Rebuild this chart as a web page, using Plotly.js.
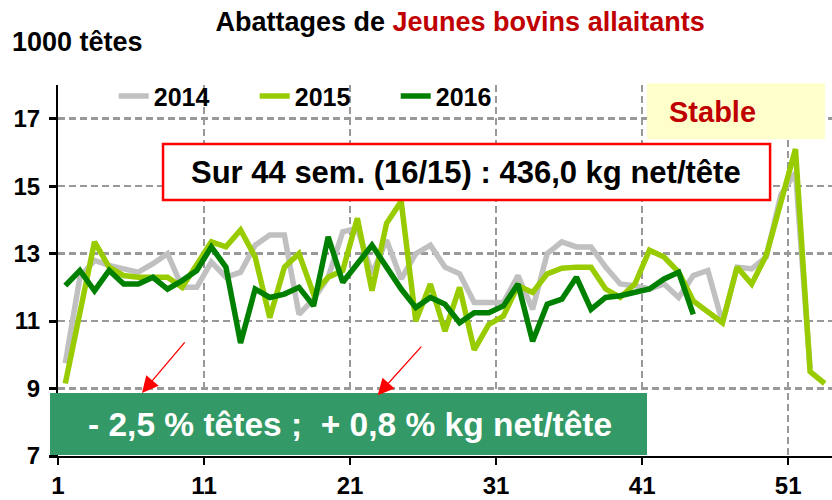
<!DOCTYPE html>
<html><head><meta charset="utf-8">
<script src="https://cdn.plot.ly/plotly-3.0.1.min.js"></script>
<style>body{margin:0;background:#fff}#chart{width:832px;height:500px}</style>
</head><body><div id="chart"></div>
<script>
const weeks = [1,2,3,4,5,6,7,8,9,10,11,12,13,14,15,16,17,18,19,20,21,22,23,24,25,26,27,28,29,30,31,32,33,34,35,36,37,38,39,40,41,42,43,44,45,46,47,48,49,50,51,52,53];
const seriesNames = ['2014','2015','2016'];
const values2014 = [9.75,12.3,12.8,12.65,12.55,12.45,12.7,13.0,12.0,12.0,12.75,12.3,12.45,13.25,13.55,13.55,11.2,11.65,12.3,13.65,13.75,12.4,13.4,12.25,13.0,13.25,12.6,12.4,11.55,11.55,11.55,12.35,11.35,13.0,13.35,13.2,13.2,12.6,12.1,12.05,11.95,12.1,11.7,12.35,12.5,10.95,12.6,12.55,12.9,14.75,15.4,9.6];
const values2015 = [9.15,11.3,13.35,12.6,12.35,12.3,12.3,12.3,12.0,12.7,13.35,13.2,13.7,12.9,11.1,12.6,13.0,11.8,12.3,12.5,14.05,11.9,13.9,14.55,11.0,12.1,10.7,12.0,10.15,10.9,11.15,12.05,11.85,12.4,12.57,12.6,12.6,11.95,11.7,12.1,13.1,12.9,12.45,11.6,11.25,10.95,12.6,12.1,12.95,14.5,16.1,9.5,9.15];
const values2016 = [12.05,12.5,11.9,12.5,12.1,12.1,12.3,11.95,12.2,12.5,13.2,12.6,10.35,11.95,11.7,11.8,12.0,11.45,13.5,12.15,12.7,13.25,12.6,11.95,11.4,11.7,11.5,10.95,11.25,11.25,11.45,12.1,10.4,11.5,11.65,12.3,11.35,11.7,11.75,11.85,11.95,12.25,12.45,11.2];
const xTickLabels = ['1','11','21','31','41','51'];
const yTickValues = [7,9,11,13,15,17];
const titleLeft = 'Abattages de ';
const titleRight = 'Jeunes bovins allaitants';
const yUnit = '1000 têtes';
const boxText = 'Sur 44 sem. (16/15) : 436,0 kg net/tête';
const stableText = 'Stable';
const greenText = '- 2,5 % têtes ;  + 0,8 % kg net/tête';

const FONT = 'Liberation Sans, Arial, sans-serif';
const colors = ['#c0c0c0','#99cc00','#008000'];
const allValues = [values2014, values2015, values2016];

const traces = allValues.map((v, i) => ({
  type: 'scatter', mode: 'lines', name: seriesNames[i],
  x: weeks.slice(0, v.length), y: v,
  line: {color: colors[i], width: 5.5},
  hoverinfo: 'skip'
}));

const gridDash = '7px,4px';
const layout = {
  width: 832, height: 500,
  margin: {l: 58, r: 0, t: 85, b: 44},
  paper_bgcolor: '#ffffff', plot_bgcolor: '#ffffff',
  font: {family: FONT, color: '#000'},
  title: {
    text: titleLeft + '<span style="color:#c00000">' + titleRight + '</span>',
    x: 0.553, xanchor: 'center', y: 0.956, yanchor: 'middle',
    font: {family: FONT, size: 27, weight: 'bold', color: '#000'}
  },
  showlegend: true,
  legend: {
    orientation: 'h', x: 0.072, xanchor: 'left', y: 1.032, yanchor: 'top',
    bgcolor: 'rgba(0,0,0,0)', entrywidth: 96, entrywidthmode: 'pixels',
    font: {family: FONT, size: 25, weight: 'bold', color: '#000'}
  },
  xaxis: {
    range: [0.5, 53.5],
    tickmode: 'array',
    tickvals: xTickLabels.map(l => Number(l) - 0.5),
    ticktext: xTickLabels,
    ticks: 'outside', ticklen: 7, tickwidth: 2, tickcolor: '#000',
    showline: true, linecolor: '#000', linewidth: 2,
    showgrid: true, gridcolor: '#999999', gridwidth: 2.5, griddash: gridDash,
    zeroline: false,
    tickfont: {family: FONT, size: 24, weight: 'bold', color: '#000'}
  },
  yaxis: {
    range: [7, 18],
    tickmode: 'array', tickvals: yTickValues,
    ticks: 'outside', ticklen: 7, tickwidth: 3, tickcolor: '#000',
    ticklabelstandoff: 4,
    showline: true, linecolor: '#000', linewidth: 2,
    showgrid: true, gridcolor: '#999999', gridwidth: 2.5, griddash: gridDash,
    zeroline: false,
    tickfont: {family: FONT, size: 24, weight: 'bold', color: '#000'}
  },
  shapes: [
    {type: 'rect', xref: 'paper', yref: 'paper', x0: -0.0103, x1: 0.761, y0: 0.003, y1: 0.17,
     fillcolor: '#339966', line: {width: 0}, layer: 'above'},
    {type: 'rect', xref: 'paper', yref: 'paper', x0: 0.1357, x1: 0.92, y0: 0.69, y1: 0.841,
     fillcolor: '#ffffff', line: {color: '#ff0000', width: 2.5}, layer: 'above'},
    {type: 'rect', xref: 'paper', yref: 'paper', x0: 0.761, x1: 0.991, y0: 0.854, y1: 1.005,
     fillcolor: '#ffffcc', line: {width: 0}, layer: 'above'}
  ],
  annotations: [
    {text: yUnit, xref: 'paper', yref: 'paper', x: -0.0625, y: 1.116, xanchor: 'left', yanchor: 'middle',
     showarrow: false, font: {family: FONT, size: 27, weight: 'bold', color: '#000'}},
    {text: boxText, xref: 'paper', yref: 'paper', x: 0.527, y: 0.765, xanchor: 'center', yanchor: 'middle',
     showarrow: false, font: {family: FONT, size: 31, weight: 'bold', color: '#000'}},
    {text: stableText, xref: 'paper', yref: 'paper', x: 0.846, y: 0.927, xanchor: 'center', yanchor: 'middle',
     showarrow: false, font: {family: FONT, size: 29, weight: 'bold', color: '#c00000'}},
    {text: greenText, xref: 'paper', yref: 'paper', x: 0.377, y: 0.086, xanchor: 'center', yanchor: 'middle',
     showarrow: false, font: {family: FONT, size: 33.5, weight: 'bold', color: '#ffffff'}},
    {text: '', xref: 'paper', yref: 'paper', x: 0.1085, y: 0.17, ax: 44, ay: -52,
     showarrow: true, arrowhead: 2, arrowsize: 2.5, arrowwidth: 1.3, arrowcolor: '#ff0000', standoff: 0},
    {text: '', xref: 'paper', yref: 'paper', x: 0.413, y: 0.164, ax: 45, ay: -50,
     showarrow: true, arrowhead: 2, arrowsize: 2.5, arrowwidth: 1.3, arrowcolor: '#ff0000', standoff: 0}
  ]
};

Plotly.newPlot('chart', traces, layout, {displayModeBar: false, staticPlot: true});
</script>
</body></html>
